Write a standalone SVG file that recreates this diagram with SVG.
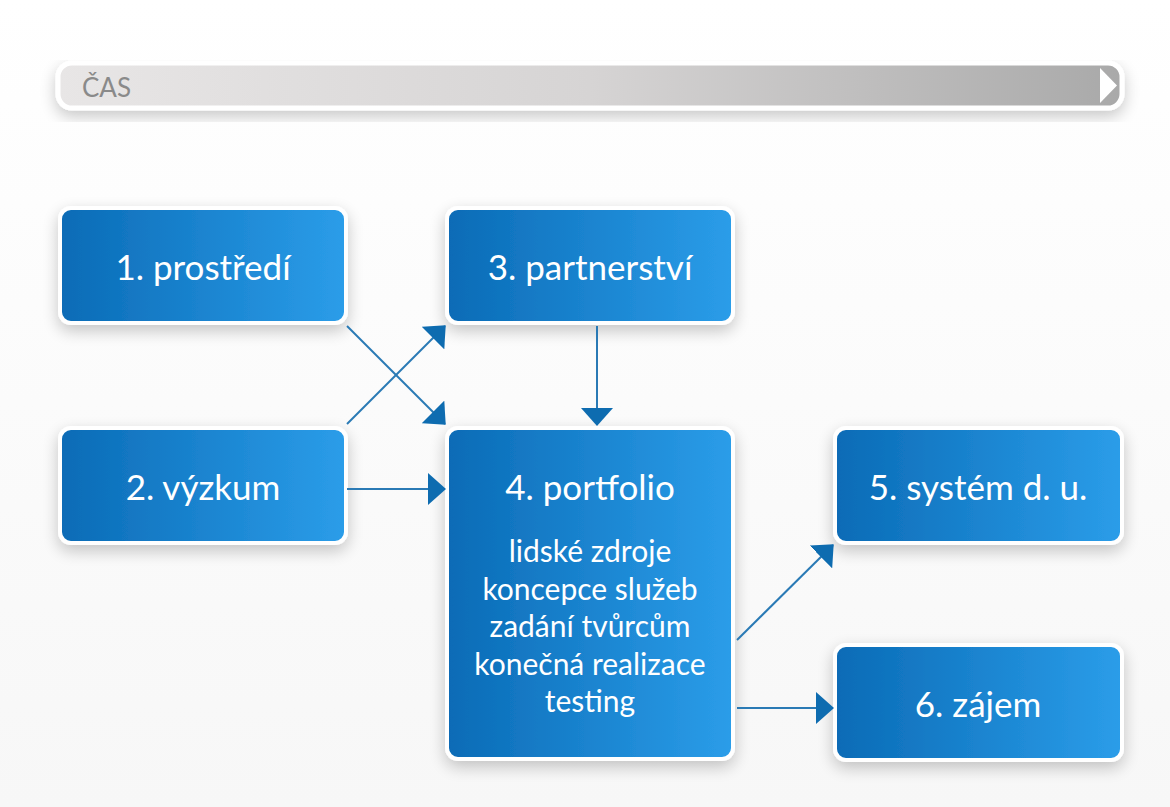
<svg xmlns="http://www.w3.org/2000/svg" width="1170" height="807" viewBox="0 0 1170 807">
<defs>
<linearGradient id="bg" x1="0" y1="0" x2="0" y2="1">
<stop offset="0" stop-color="#ffffff"/>
<stop offset="1" stop-color="#f7f7f7"/>
</linearGradient>
<linearGradient id="blue" x1="0" y1="0" x2="1" y2="0">
<stop offset="0" stop-color="#0a6bb6"/>
<stop offset="1" stop-color="#2b9de9"/>
</linearGradient>
<linearGradient id="gray" x1="0" y1="0" x2="1" y2="0">
<stop offset="0" stop-color="#e8e6e6"/>
<stop offset="0.5" stop-color="#d6d4d4"/>
<stop offset="1" stop-color="#a9a9a9"/>
</linearGradient>
<filter id="sh" x="-20%" y="-20%" width="140%" height="150%">
<feGaussianBlur in="SourceAlpha" stdDeviation="8"/>
<feOffset dx="0" dy="6" result="b"/>
<feComponentTransfer><feFuncA type="linear" slope="0.22"/></feComponentTransfer>
<feMerge><feMergeNode/><feMergeNode in="SourceGraphic"/></feMerge>
</filter>
<marker id="ah" viewBox="0 0 18 32" refX="17" refY="16" markerWidth="18" markerHeight="32" orient="auto" markerUnits="userSpaceOnUse">
<path d="M0,0 L18,16 L0,32 Z" fill="#0e6cb0"/>
</marker>
</defs>
<style>
.box{fill:url(#blue);stroke:#ffffff;stroke-width:4;filter:url(#sh)}
.t{font-family:Lato,"Open Sans","Liberation Sans",sans-serif;fill:#ffffff;text-anchor:middle}
.big{font-size:35px}
.sm{font-size:30px}
.c{stroke:#2a7ab5;stroke-width:2;fill:none;marker-end:url(#ah)}
</style>
<rect width="1170" height="807" fill="url(#bg)"/>
<g id="timeline">
<rect x="58" y="63" width="1064" height="45" rx="14" fill="url(#gray)" stroke="#ffffff" stroke-width="5" filter="url(#sh)"/>
<text x="82" y="97" font-family="Lato,'Open Sans','Liberation Sans',sans-serif" font-size="26" fill="#8a8a8a">ČAS</text>
<path d="M1100,68 L1117,85.5 L1100,103 Z" fill="#ffffff"/>
</g>
<g id="n1"><rect class="box" x="60" y="208" width="286" height="115" rx="11"/><text class="t big" x="203" y="280">1. prostředí</text></g>
<g id="n2"><rect class="box" x="60" y="428" width="286" height="115" rx="11"/><text class="t big" x="203" y="500">2. výzkum</text></g>
<g id="n3"><rect class="box" x="447" y="208" width="286" height="115" rx="11"/><text class="t big" x="590" y="280">3. partnerství</text></g>
<g id="n4"><rect class="box" x="447" y="428" width="286" height="331" rx="11"/>
<text class="t big" x="590" y="500">4. portfolio</text>
<text class="t sm" x="590" y="562">lidské zdroje</text>
<text class="t sm" x="590" y="600">koncepce služeb</text>
<text class="t sm" x="590" y="637">zadání tvůrcům</text>
<text class="t sm" x="590" y="675">konečná realizace</text>
<text class="t sm" x="590" y="712">testing</text>
</g>
<g id="n5"><rect class="box" x="835" y="428" width="287" height="115" rx="11"/><text class="t big" x="978" y="500">5. systém d. u.</text></g>
<g id="n6"><rect class="box" x="835" y="645" width="287" height="115" rx="11"/><text class="t big" x="978" y="717">6. zájem</text></g>
<g id="connectors">
<line class="c" x1="347" y1="326" x2="445" y2="424"/>
<line class="c" x1="347" y1="424" x2="445" y2="326"/>
<line class="c" x1="347" y1="489" x2="445" y2="489"/>
<line class="c" x1="597" y1="326" x2="597" y2="425"/>
<line class="c" x1="737" y1="640" x2="833" y2="545"/>
<line class="c" x1="737" y1="708" x2="833" y2="708"/>
</g>
</svg>
